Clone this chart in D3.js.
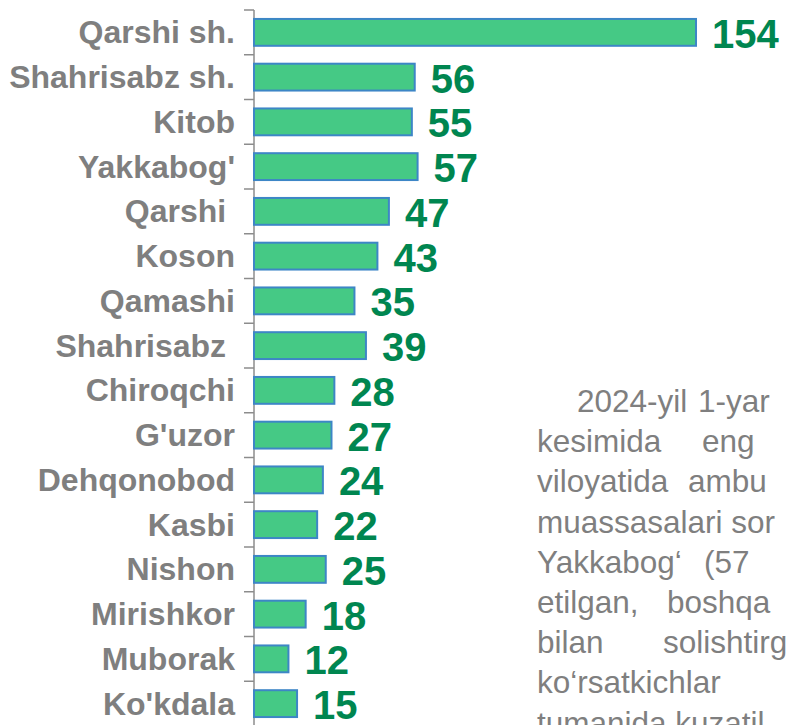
<!DOCTYPE html>
<html>
<head>
<meta charset="utf-8">
<script src="https://cdn.jsdelivr.net/npm/d3@7"></script>
<style>
  body { margin: 0; background: #fff; }
  svg { display: block; font-family: "Liberation Sans", Arial, sans-serif; }
</style>
</head>
<body>
<svg width="786" height="725"></svg>
<script>
// districts, top to bottom (trailing spaces as in the original labels)
var districts = ["Qarshi sh.", "Shahrisabz sh.", "Kitob", "Yakkabog'", "Qarshi ", "Koson", "Qamashi",
  "Shahrisabz ", "Chiroqchi", "G'uzor", "Dehqonobod", "Kasbi", "Nishon", "Mirishkor", "Muborak", "Ko'kdala"];
var counts = [154, 56, 55, 57, 47, 43, 35, 39, 28, 27, 24, 22, 25, 18, 12, 15];

// paragraph on the right (cut off by the frame)
var noteLines = [
  ["2024-yil", "1-yar"],
  ["kesimida", "eng"],
  ["viloyatida", "ambu"],
  ["muassasalari sor"],
  ["Yakkabog‘", "(57"],
  ["etilgan,", "boshqa"],
  ["bilan", "solishtirg"],
  ["ko‘rsatkichlar"],
  ["tumanida kuzatil"]
];
var noteWordX = [[577, 698], [537, 702], [537, 688], [537], [537, 704], [537, 667], [537, 663], [537], [537]];

var data = districts.map((d, i) => ({ name: d, value: counts[i] }));

var svg = d3.select("svg");

var y = d3.scaleBand().domain(districts).range([10, 726]).paddingInner(0.4).paddingOuter(0.2);
var x = d3.scaleLinear().domain([0, 154]).range([254, 696]);
var step = y.step();

// axis line + ticks at band boundaries
var axis = svg.append("g").attr("class", "y-axis");
axis.append("line")
  .attr("x1", 254).attr("x2", 254)
  .attr("y1", 10).attr("y2", 725)
  .attr("stroke", "#8c8c8c").attr("stroke-width", 1.5);
axis.selectAll(".tick")
  .data(districts)
  .enter().append("line")
  .attr("class", "tick")
  .attr("x1", 244).attr("x2", 254)
  .attr("y1", d => y(d) - step * 0.2)
  .attr("y2", d => y(d) - step * 0.2)
  .attr("stroke", "#8c8c8c").attr("stroke-width", 1.5);

// bars
svg.selectAll(".bar")
  .data(data)
  .enter().append("rect")
  .attr("class", "bar")
  .attr("x", x(0))
  .attr("y", d => y(d.name))
  .attr("width", d => x(d.value) - x(0))
  .attr("height", y.bandwidth())
  .attr("fill", "#45c985")
  .attr("stroke", "#3d86c6")
  .attr("stroke-width", 2);

// category labels
svg.selectAll(".cat")
  .data(data)
  .enter().append("text")
  .attr("class", "cat")
  .attr("x", 235)
  .attr("y", d => y(d.name) + y.bandwidth() / 2 + 11)
  .attr("text-anchor", "end")
  .style("white-space", "pre")
  .attr("fill", "#7f7f7f")
  .attr("font-weight", "bold")
  .attr("font-size", "32px")
  .text(d => d.name);

// value labels
svg.selectAll(".val")
  .data(data)
  .enter().append("text")
  .attr("class", "val")
  .attr("x", d => x(d.value) + 16)
  .attr("y", d => y(d.name) + y.bandwidth() / 2 + 15.5)
  .attr("fill", "#008650")
  .attr("font-weight", "bold")
  .attr("font-size", "40px")
  .text(d => d.value);

// paragraph
var note = svg.append("g").attr("class", "note")
  .attr("fill", "#7f7f7f")
  .attr("font-size", "31.5px");
noteLines.forEach((words, i) => {
  words.forEach((w, j) => {
    note.append("text")
      .attr("x", noteWordX[i][j])
      .attr("y", 412 + i * 40.2)
      .text(w);
  });
});
</script>
</body>
</html>
